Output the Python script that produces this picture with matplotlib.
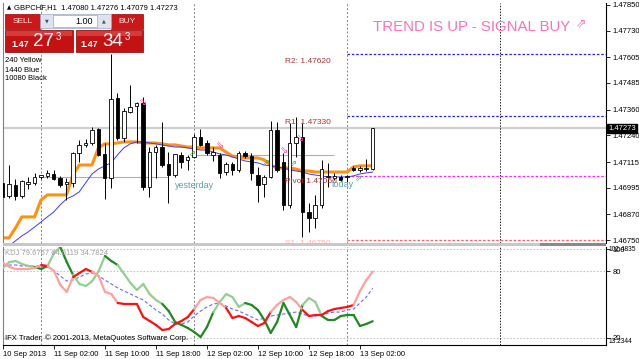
import matplotlib
matplotlib.use("Agg")
import matplotlib.pyplot as plt
import matplotlib.transforms as mtransforms
from matplotlib.patches import Rectangle
from matplotlib.collections import LineCollection
import numpy as np

plt.rcParams['font.family'] = ['Liberation Sans', 'DejaVu Sans']

W, H = 639, 359

# ---- data (first bar 10 Sep 18:00) ----
time_labels = ['10 Sep 2013', '11 Sep 02:00', '11 Sep 10:00', '11 Sep 18:00',
               '12 Sep 02:00', '12 Sep 10:00', '12 Sep 18:00', '13 Sep 02:00']
time_label_bars = [0, 8, 16, 24, 32, 40, 48, 56]
day_sep_bars = [6, 30, 54]
end_line_bar = 78

opens = [1.47017, 1.46956, 1.47008, 1.46956, 1.47012, 1.47017, 1.47045, 1.47050, 1.47059, 1.47040,
         1.47012, 1.47017, 1.47157, 1.47195, 1.47204, 1.47270, 1.47153, 1.47040, 1.47415, 1.47228,
         1.47349, 1.47377, 1.47391, 1.46998, 1.47162, 1.47185, 1.47106, 1.47054, 1.47148, 1.47125,
         1.47139, 1.47232, 1.47204, 1.47148, 1.47148, 1.47068, 1.47106, 1.47078, 1.47157, 1.47143,
         1.47054, 1.47012, 1.47045, 1.47265, 1.47115, 1.46914, 1.47204, 1.47232, 1.46881, 1.46853,
         1.46914, 1.47045, 1.47040, 1.47045, 1.47045, 1.47087, 1.47078, 1.47082, 1.47080]
highs = [1.47101, 1.47101, 1.47036, 1.47031, 1.47045, 1.47064, 1.47054, 1.47078, 1.47078, 1.47050,
         1.47040, 1.47162, 1.47218, 1.47223, 1.47279, 1.47274, 1.47204, 1.47621, 1.47438, 1.47368,
         1.47476, 1.47396, 1.47419, 1.47185, 1.47195, 1.47302, 1.47162, 1.47153, 1.47162, 1.47148,
         1.47246, 1.47270, 1.47218, 1.47185, 1.47157, 1.47115, 1.47115, 1.47167, 1.47167, 1.47157,
         1.47092, 1.47054, 1.47307, 1.47302, 1.47157, 1.47298, 1.47326, 1.47298, 1.46923, 1.46961,
         1.47125, 1.47111, 1.47064, 1.47054, 1.47054, 1.47097, 1.47097, 1.47129, 1.47276]
lows = [1.46900, 1.46947, 1.46937, 1.46947, 1.46989, 1.47008, 1.47036, 1.47040, 1.47031, 1.46998,
        1.46937, 1.46998, 1.47115, 1.47185, 1.47195, 1.47143, 1.46942, 1.46994, 1.47218, 1.47209,
        1.47345, 1.47204, 1.46984, 1.46951, 1.47040, 1.47092, 1.46923, 1.47045, 1.47087, 1.47078,
        1.47134, 1.47190, 1.47148, 1.47120, 1.47040, 1.47054, 1.47054, 1.47068, 1.47134, 1.47031,
        1.46928, 1.46951, 1.47040, 1.47068, 1.46891, 1.46900, 1.47139, 1.46764, 1.46788, 1.46806,
        1.46900, 1.46998, 1.47031, 1.47026, 1.47022, 1.47073, 1.47068, 1.47073, 1.47079]
closes = [1.46951, 1.47012, 1.46956, 1.47026, 1.47022, 1.47045, 1.47054, 1.47064, 1.47036, 1.47008,
          1.47022, 1.47157, 1.47195, 1.47204, 1.47265, 1.47148, 1.47040, 1.47410, 1.47228, 1.47354,
          1.47373, 1.47391, 1.46998, 1.47162, 1.47185, 1.47101, 1.47054, 1.47153, 1.47115, 1.47139,
          1.47232, 1.47195, 1.47157, 1.47162, 1.47064, 1.47106, 1.47078, 1.47157, 1.47143, 1.47064,
          1.47008, 1.47045, 1.47265, 1.47078, 1.46914, 1.47204, 1.47232, 1.46881, 1.46853, 1.46914,
          1.47082, 1.47050, 1.47050, 1.47031, 1.47050, 1.47078, 1.47087, 1.47087, 1.47273]

# MTF moving averages (240 = orange, 1440 = blue)
ma_240 = [1.46760, 1.46760, 1.46806, 1.46858, 1.46858, 1.46858, 1.46937, 1.46961, 1.46961, 1.46961,
          1.46961, 1.47054, 1.47101, 1.47101, 1.47101, 1.47181, 1.47200, 1.47200, 1.47204, 1.47209,
          1.47209, 1.47209, 1.47204, 1.47204, 1.47204, 1.47200, 1.47195, 1.47195, 1.47190, 1.47185,
          1.47185, 1.47181, 1.47181, 1.47181, 1.47181, 1.47162, 1.47143, 1.47139, 1.47134, 1.47134,
          1.47134, 1.47125, 1.47101, 1.47087, 1.47087, 1.47087, 1.47082, 1.47073, 1.47073, 1.47068,
          1.47068, 1.47068, 1.47068, 1.47068, 1.47068, 1.47092, 1.47097, 1.47097, 1.47097]
ma_1440 = [1.46694, 1.46722, 1.46746, 1.46769, 1.46788, 1.46811, 1.46834, 1.46858, 1.46881, 1.46914,
           1.46942, 1.46956, 1.46975, 1.47017, 1.47059, 1.47082, 1.47097, 1.47111, 1.47148, 1.47181,
           1.47200, 1.47209, 1.47209, 1.47204, 1.47200, 1.47195, 1.47190, 1.47185, 1.47185, 1.47181,
           1.47176, 1.47171, 1.47171, 1.47162, 1.47153, 1.47148, 1.47139, 1.47129, 1.47120, 1.47115,
           1.47111, 1.47101, 1.47097, 1.47092, 1.47087, 1.47078, 1.47073, 1.47068, 1.47059, 1.47054,
           1.47050, 1.47045, 1.47045, 1.47045, 1.47045, 1.47050, 1.47059, 1.47064, 1.47068]

bid = 1.47273
price_ticks = [1.47850, 1.47730, 1.47605, 1.47485, 1.47360, 1.47240, 1.47115, 1.46995, 1.46870, 1.46750]

# pivot levels of the day
r2, r1, pivot, s1 = 1.47620, 1.47330, 1.47050, 1.46750
yesterday_level, today_level = 1.47045, 1.47148

# signal arrows
sell_bars = [21.9, 34.0, 44.0, 46.5]
sell_prices = [1.47396, 1.47195, 1.47171, 1.47228]
buy_bars = [29.7, 41.3, 45.5, 55.7]
buy_prices = [1.47157, 1.47115, 1.47111, 1.47040]

# KDJ sub window
k_line = [87.5, 83.9, 82.1, 82.1, 82.1, 83.0, 85.7, 84.8, 80.3, 67.6,
          61.3, 74.8, 78.5, 82.1, 79.4, 75.8, 61.3, 59.4, 51.3, 50.4,
          50.4, 50.4, 38.6, 35.0, 31.4, 26.8, 27.7, 32.3, 35.0, 38.6,
          45.8, 54.0, 56.7, 55.8, 51.3, 46.8, 37.7, 39.5, 37.7, 34.1,
          30.4, 33.2, 43.1, 49.5, 54.0, 56.7, 52.2, 44.9, 39.5, 40.4,
          40.4, 44.0, 45.8, 46.8, 47.7, 49.5, 62.2, 72.1, 79.6767]
d_line = [86.6, 85.7, 85.7, 84.8, 84.8, 84.8, 84.8, 83.9, 80.3, 75.8,
          71.2, 72.1, 74.8, 77.6, 78.5, 75.8, 72.1, 68.5, 64.9, 62.2,
          59.4, 56.7, 54.0, 49.5, 44.9, 41.3, 35.9, 32.3, 32.3, 34.1,
          39.5, 44.0, 47.7, 50.4, 51.3, 48.6, 45.8, 44.0, 41.3, 38.6,
          35.9, 37.7, 39.5, 40.4, 41.3, 42.2, 43.1, 41.3, 39.5, 39.5,
          40.4, 42.2, 43.1, 43.1, 44.9, 45.8, 51.3, 56.7, 64.6119]
j_line = [83.0, 88.4, 89.3, 86.6, 84.8, 83.9, 82.1, 84.8, 96.6, 102.0,
          88.4, 76.7, 68.5, 66.7, 71.2, 80.1, 93.9, 89.3, 85.7, 77.6,
          69.4, 63.1, 68.5, 59.4, 54.0, 50.4, 44.0, 34.1, 31.4, 28.6,
          25.0, 20.5, 29.5, 43.1, 52.2, 59.4, 56.7, 47.7, 51.3, 49.5,
          44.9, 35.9, 24.1, 34.1, 51.3, 40.4, 29.5, 49.5, 55.8, 52.2,
          39.5, 35.9, 35.9, 39.5, 40.4, 40.4, 30.4, 32.3, 34.7824]
# dark / light shading runs of the K and J lines (segments)
k_runs = [(6, 'L'), (1, 'D'), (4, 'L'), (3, 'D'), (4, 'L'), (12, 'D'), (5, 'L'), (7, 'D'), (5, 'L'), (8, 'D'), (3, 'L')]
j_runs = [(5, 'L'), (2, 'D'), (2, 'L'), (2, 'D'), (5, 'L'), (2, 'D'), (7, 'L'), (8, 'D'), (5, 'L'), (9, 'D'), (3, 'L'), (8, 'D')]
kdj_max, kdj_min = 102.4835, 13.2344


def runs_to_flags(runs):
    out = []
    for n, s in runs:
        out += [s] * n
    return out


fig = plt.figure(figsize=(W / 100, H / 100), dpi=100)
fig.patch.set_facecolor('white')

ax = fig.add_axes([3 / W, 1 - 243 / H, 603 / W, 240 / H])
ax2 = fig.add_axes([3 / W, 1 - 345 / H, 603 / W, 98.5 / H])
xmin, xmax = 0.05, 94.6

# ---- main price window ----
idx = np.arange(len(opens))
o = np.array(opens); c = np.array(closes)
ax.axhline(bid, color='#cfcfcf', lw=1.6, zorder=1)
ax.hlines(yesterday_level, 6, 26, color='#b0b0b0', lw=0.8, zorder=1)
ax.hlines(today_level, 30, 52, color='#b0b0b0', lw=0.8, zorder=1)

for b in day_sep_bars:
    ax.axvline(b, color='#808080', ls=(0, (2, 2)), lw=0.7, zorder=1)
ax.axvline(end_line_bar, color='#202020', ls=(0, (1.5, 1.5)), lw=0.7, zorder=1)

ax.plot(idx, ma_240, color='#ff9010', lw=2.2, zorder=1.5, solid_capstyle='butt')
ax.plot(idx, ma_1440, color='#3a3aff', lw=0.7, zorder=1.6)

ax.vlines(idx, lows, highs, color='black', lw=0.7, zorder=2)
bottoms = np.minimum(o, c)
heights = np.maximum(np.abs(c - o), 0.00002)
body_col = ['white' if cc >= oo else 'black' for oo, cc in zip(o, c)]
ax.bar(idx, heights, 0.55, bottoms, color=body_col, edgecolor='black', lw=0.6, zorder=3)

lvl_start = day_sep_bars[-1]
ax.hlines([r2, r1], lvl_start, xmax, colors='#2020ff', linestyles=[(0, (2, 1.5))], lw=0.9, zorder=1)
ax.hlines(pivot, lvl_start, xmax, colors='#ff20ff', linestyles=[(0, (2, 1.5))], lw=0.9, zorder=1)
ax.hlines(s1, lvl_start, xmax, colors='#ff6060', linestyles=[(0, (2, 1.5))], lw=0.9, zorder=1)

lab_x = 44.3
ax.text(lab_x, 1.47583, 'R2: 1.47620', color='#b03030', fontsize=6, va='center', zorder=4)
ax.text(lab_x, 1.47302, 'R1: 1.47330', color='#b03030', fontsize=6, va='center', zorder=4)
ax.text(lab_x, 1.47022, 'Pivot 1.47050', color='#b03030', fontsize=6, va='center', zorder=4)
ax.text(lab_x, 1.46733, 'S1: 1.46750', color='#ffb0b0', fontsize=6, va='center', zorder=4, clip_on=True)
ax.text(27, 1.47003, 'yesterday', color='#5fa0a8', fontsize=6.5, va='center', zorder=4)
ax.text(51.7, 1.47012, 'today', color='#5fa0a8', fontsize=6.5, va='center', zorder=4)

for b, p in zip(sell_bars, sell_prices):
    ax.text(b, p, '\u21d8', color='#ff4fb0', fontsize=7, ha='center', va='center',
            family=['DejaVu Sans'], zorder=4)
for b, p in zip(buy_bars, buy_prices):
    ax.text(b, p, '\u21d7', color='#40a040', fontsize=6, ha='center', va='center',
            family=['DejaVu Sans'], zorder=4)

ax.set_xlim(xmin, xmax)
ax.set_ylim(1.46736, 1.47859)
ax.set_xticks([])
ax.yaxis.tick_right()
ax.set_yticks(price_ticks)
ax.set_yticklabels(['%.5f' % p for p in price_ticks])
ax.tick_params(axis='y', length=3, width=0.6, labelsize=5.5, pad=1.5)
for s in ['top', 'bottom']:
    ax.spines[s].set_visible(False)
ax.spines['left'].set_color('#808080')
ax.spines['right'].set_color('black')
ax.spines['right'].set_linewidth(0.8)

tr = mtransforms.blended_transform_factory(ax.transAxes, ax.transData)
ax.text(1.004, bid, '%.5f' % bid, transform=tr, color='white', fontsize=5.5, va='center', ha='left',
        bbox=dict(boxstyle='square,pad=0.12', fc='black', ec='black'), zorder=6, clip_on=False)

# ---- KDJ window ----
for lv in [100, 80, 20]:
    ax2.axhline(lv, color='#c4c4c4', ls=(0, (1.5, 1.5)), lw=0.8, zorder=1)
for b in day_sep_bars:
    ax2.axvline(b, color='#808080', ls=(0, (2, 2)), lw=0.7, zorder=1)
ax2.axvline(end_line_bar, color='#202020', ls=(0, (1.5, 1.5)), lw=0.7, zorder=1)

ax2.plot(idx, d_line, color='#6a6aff', lw=0.8, ls=(0, (3, 2)), zorder=2)


def shaded_line(values, flags, dark, light):
    pts = np.column_stack([idx, values])
    segs = [pts[i:i + 2] for i in range(len(pts) - 1)]
    cols = [dark if f == 'D' else light for f in flags]
    ax2.add_collection(LineCollection(segs, colors=cols, linewidths=1.6, zorder=3, capstyle='round'))


shaded_line(j_line, runs_to_flags(j_runs), '#1f8a1f', '#92d092')
shaded_line(k_line, runs_to_flags(k_runs), '#ff1010', '#ffa0a0')

ax2.set_xlim(xmin, xmax)
ax2.set_ylim(kdj_min, kdj_max)
ax2.yaxis.tick_right()
ax2.set_yticks([100, 80, 20])
ax2.set_yticklabels(['100', '80', '20'])
ax2.tick_params(axis='y', length=3, width=0.6, labelsize=5.5, pad=1.5)
# MT4 also prints the window max / min; they sit right on the 100 / 20 labels
tr2 = mtransforms.blended_transform_factory(ax2.transAxes, ax2.transData)
ax2.text(1.004, kdj_max, '%.4f' % kdj_max, transform=tr2, fontsize=4.8, va='top', ha='left', clip_on=False)
ax2.text(1.004, kdj_min, '%.4f' % kdj_min, transform=tr2, fontsize=4.8, va='bottom', ha='left', clip_on=False)
ax2.set_xticks(time_label_bars)
ax2.set_xticklabels(time_labels, ha='left')
ax2.tick_params(axis='x', length=3, width=0.6, labelsize=5.5, pad=1)
ax2.spines['top'].set_visible(False)
ax2.spines['left'].set_color('#808080')
for s in ['right', 'bottom']:
    ax2.spines[s].set_color('black')
    ax2.spines[s].set_linewidth(0.8)

ax2.text(0.004, 0.93, 'KDJ %.4f %.4f %.4f' % (k_line[-1], d_line[-1], j_line[-1]),
         transform=ax2.transAxes, color='#a0a0a0', fontsize=5.5, va='center')
ax2.text(0.004, 0.07, 'IFX Trader, \u00a9 2001-2013, MetaQuotes Software Corp.',
         transform=ax2.transAxes, color='black', fontsize=5.5, va='center')


# ---- window furniture in pixel coordinates ----
def px_rect(x0, y0, x1, y1, **kw):
    fig.add_artist(Rectangle((x0 / W, 1 - y1 / H), (x1 - x0) / W, (y1 - y0) / H,
                             transform=fig.transFigure, **kw))


def px_text(x, y, s, **kw):
    fig.text(x / W, 1 - y / H, s, **kw)


px_rect(3, 243, 540, 246, color='#c8c8c8', lw=0)
px_rect(540, 243, 606, 246, color='#8a8a8a', lw=0)

px_text(7, 8, '\u25b2', fontsize=4, va='center', family=['DejaVu Sans'])
px_text(14, 8, 'GBPCHF,H1  %.5f %.5f %.5f %.5f' % (opens[-1], highs[-1], lows[-1], closes[-1]),
        fontsize=5.5, va='center')

# one click trading panel
red = '#cc1818'
px_rect(5, 14, 40, 29, fc=red, ec='#9a0000', lw=0.5)
px_rect(111, 14, 143, 29, fc=red, ec='#9a0000', lw=0.5)
px_rect(40, 14, 111, 28, fc='#dde4ee', ec='#9aa8c0', lw=0.5)
px_rect(53, 15, 97, 27, fc='white', ec='#9aa8c0', lw=0.5)
px_text(22.5, 21.5, 'SELL', color='#ffe4e4', fontsize=6, ha='center', va='center')
px_text(127, 21.5, 'BUY', color='#ffe4e4', fontsize=6, ha='center', va='center')
px_text(93, 21, '1.00', fontsize=6.5, ha='right', va='center')
px_text(46.5, 21, '\u25bc', color='#405070', fontsize=3.5, ha='center', va='center', family=['DejaVu Sans'])
px_text(104, 21, '\u25b2', color='#405070', fontsize=3.5, ha='center', va='center', family=['DejaVu Sans'])
for x0, x1, big, sm in [(5, 73, '27', 20), (76, 143, '34', 89)]:
    px_rect(x0, 30, x1, 52, fc='#c41212', ec='#8a0000', lw=0.5)
    px_rect(x0 + 1, 31, x1 - 1, 36, fc='#d63a3a', lw=0)
    px_text(sm, 44.5, '1.47', color='white', fontsize=6.5, ha='center', va='center', weight='bold')
    px_text(sm + 23.5, 41, big, color='white', fontsize=13.5, ha='center', va='center')
    px_text(sm + 38, 36.5, '3', color='white', fontsize=7, ha='center', va='center')

px_text(5, 61, '240 Yellow', fontsize=5.5, va='center')
px_text(5, 70, '1440 Blue', fontsize=5.5, va='center')
px_text(5, 79, '10080 Black', fontsize=5.5, va='center')

px_text(373, 27, 'TREND IS UP - SIGNAL BUY', color='#ff70b8', fontsize=10.8, va='center')
px_text(576, 24, '\u21d7', color='#ff70b8', fontsize=9, va='center', family=['DejaVu Sans'])

fig.savefig('out.png', dpi=100)
